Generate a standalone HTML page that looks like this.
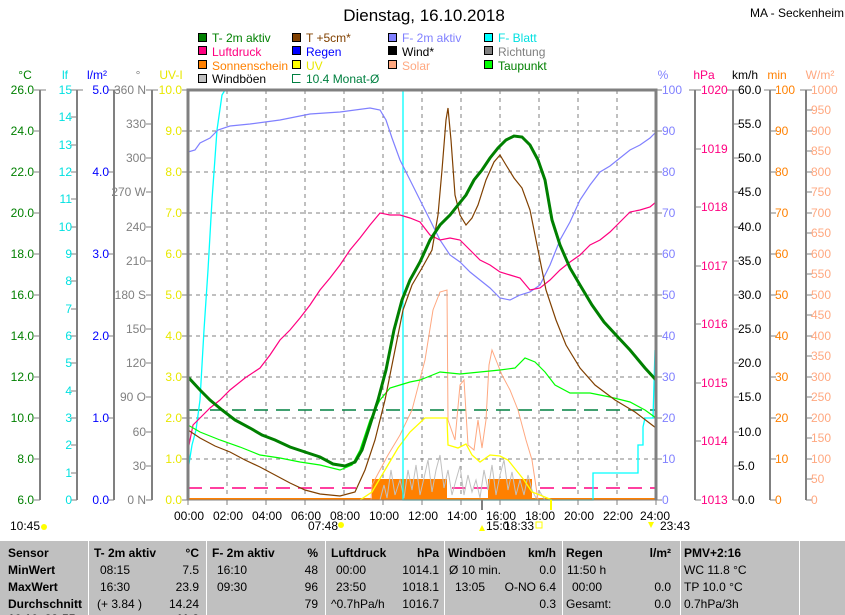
<!DOCTYPE html>
<html><head><meta charset="utf-8"><style>
body{margin:0;background:#fff;width:845px;height:615px;overflow:hidden;font-family:"Liberation Sans",sans-serif}
svg{position:absolute;left:0;top:0}
.t{font-family:"Liberation Sans",sans-serif;font-size:12px}
</style></head><body>
<svg width="845" height="615" viewBox="0 0 845 615" xmlns="http://www.w3.org/2000/svg">
<g class="t">
<text x="424" y="21" font-size="17" text-anchor="middle">Dienstag, 16.10.2018</text>
<text x="750" y="17" font-size="12">MA - Seckenheim</text>
<g stroke="#000" stroke-width="1">
<rect x="198.5" y="33.5" width="8" height="8" fill="#008000"/><rect x="198.5" y="46.5" width="8" height="8" fill="#ff0080"/><rect x="198.5" y="60.5" width="8" height="8" fill="#ff8000"/><rect x="198.5" y="74.5" width="8" height="8" fill="#c0c0c0"/>
<rect x="292.5" y="33.5" width="8" height="8" fill="#804000"/><rect x="292.5" y="46.5" width="8" height="8" fill="#0000ff"/><rect x="292.5" y="60.5" width="8" height="8" fill="#ffff00"/><path d="M300.5 74.5H292.5V82.5H300.5" fill="none" stroke="#008040"/>
<rect x="388.5" y="33.5" width="8" height="8" fill="#8080ff"/><rect x="388.5" y="46.5" width="8" height="8" fill="#000"/><rect x="388.5" y="60.5" width="8" height="8" fill="#ffa880"/>
<rect x="484.5" y="33.5" width="8" height="8" fill="#00ffff"/><rect x="484.5" y="46.5" width="8" height="8" fill="#808080"/><rect x="484.5" y="60.5" width="8" height="8" fill="#00ff00"/>
</g>
<text x="212" y="42" fill="#008000">T- 2m aktiv</text><text x="212" y="56" fill="#ff0080">Luftdruck</text><text x="212" y="70" fill="#ff8000">Sonnenschein</text><text x="212" y="83" fill="#000">Windböen</text>
<text x="306" y="42" fill="#804000">T +5cm*</text><text x="306" y="56" fill="#0000ff">Regen</text><text x="306" y="70" fill="#e8e800">UV</text><text x="306" y="83" fill="#008040">10.4 Monat-Ø</text>
<text x="402" y="42" fill="#8080ff">F- 2m aktiv</text><text x="402" y="56" fill="#000">Wind*</text><text x="402" y="70" fill="#ffa880">Solar</text>
<text x="498" y="42" fill="#00e0e0">F- Blatt</text><text x="498" y="56" fill="#808080">Richtung</text><text x="498" y="70" fill="#008000">Taupunkt</text>
<text x="25" y="79" fill="#008000" text-anchor="middle">°C</text><text x="65" y="79" fill="#00e0e0" text-anchor="middle">lf</text><text x="97" y="79" fill="#0000ff" text-anchor="middle">l/m²</text><text x="138" y="79" fill="#808080" text-anchor="middle">°</text><text x="171" y="79" fill="#e8e800" text-anchor="middle">UV-I</text>
<text x="663" y="79" fill="#8080ff" text-anchor="middle">%</text><text x="704" y="79" fill="#ff0080" text-anchor="middle">hPa</text><text x="745" y="79" fill="#000" text-anchor="middle">km/h</text><text x="777" y="79" fill="#ff8000" text-anchor="middle">min</text><text x="820" y="79" fill="#ffa880" text-anchor="middle">W/m²</text>
</g>
<g stroke="#808080" stroke-width="2">
<line x1="40" y1="90" x2="40" y2="500"/><line x1="77" y1="90" x2="77" y2="500"/><line x1="114" y1="90" x2="114" y2="500"/><line x1="152" y1="90" x2="152" y2="500"/>
<line x1="695" y1="90" x2="695" y2="500"/><line x1="733" y1="90" x2="733" y2="500"/><line x1="770" y1="90" x2="770" y2="500"/><line x1="806" y1="90" x2="806" y2="500"/>
</g>
<g stroke="#808080" stroke-width="1" fill="none">
<path d="M34 90h12M34 131h6M34 172h6M34 213h6M34 254h6M34 295h6M34 336h6M34 377h6M34 418h6M34 459h6M34 500h6"/>
<path d="M71 90h12M71 117h6M71 145h6M71 172h6M71 199h6M71 227h6M71 254h6M71 281h6M71 309h6M71 336h6M71 363h6M71 391h6M71 418h6M71 445h6M71 473h6M71 500h6"/>
<path d="M108 90h12M108 172h6M108 254h6M108 336h6M108 418h6M108 500h6"/>
<path d="M146 90h12M146 124h6M146 158h6M146 192h6M146 227h6M146 261h6M146 295h6M146 329h6M146 363h6M146 397h6M146 432h6M146 466h6M146 500h6"/>
<path d="M182 90h6M182 131h6M182 172h6M182 213h6M182 254h6M182 295h6M182 336h6M182 377h6M182 418h6M182 459h6M182 500h6"/>
<path d="M656 90h6M656 131h6M656 172h6M656 213h6M656 254h6M656 295h6M656 336h6M656 377h6M656 418h6M656 459h6M656 500h6"/>
<path d="M689 90h12M695 149h6M695 207h6M695 266h6M695 324h6M695 383h6M695 441h6M695 500h6"/>
<path d="M727 90h12M733 124h6M733 158h6M733 192h6M733 227h6M733 261h6M733 295h6M733 329h6M733 363h6M733 397h6M733 432h6M733 466h6M733 500h6"/>
<path d="M764 90h12M770 131h6M770 172h6M770 213h6M770 254h6M770 295h6M770 336h6M770 377h6M770 418h6M770 459h6M770 500h6"/>
<path d="M800 90h12M806 110h6M806 131h6M806 151h6M806 172h6M806 192h6M806 213h6M806 233h6M806 254h6M806 274h6M806 295h6M806 315h6M806 336h6M806 356h6M806 377h6M806 397h6M806 418h6M806 438h6M806 459h6M806 479h6M806 500h6"/>
</g>
<g class="t">
<g fill="#008000" text-anchor="end"><text x="34" y="94">26.0</text><text x="34" y="135">24.0</text><text x="34" y="176">22.0</text><text x="34" y="217">20.0</text><text x="34" y="258">18.0</text><text x="34" y="299">16.0</text><text x="34" y="340">14.0</text><text x="34" y="381">12.0</text><text x="34" y="422">10.0</text><text x="34" y="463">8.0</text><text x="34" y="504">6.0</text></g>
<g fill="#00e0e0" text-anchor="end"><text x="72" y="94">15</text><text x="72" y="121">14</text><text x="72" y="149">13</text><text x="72" y="176">12</text><text x="72" y="203">11</text><text x="72" y="231">10</text><text x="72" y="258">9</text><text x="72" y="285">8</text><text x="72" y="313">7</text><text x="72" y="340">6</text><text x="72" y="367">5</text><text x="72" y="395">4</text><text x="72" y="422">3</text><text x="72" y="449">2</text><text x="72" y="477">1</text><text x="72" y="504">0</text></g>
<g fill="#0000ff" text-anchor="end"><text x="109" y="94">5.0</text><text x="109" y="176">4.0</text><text x="109" y="258">3.0</text><text x="109" y="340">2.0</text><text x="109" y="422">1.0</text><text x="109" y="504">0.0</text></g>
<g fill="#808080" text-anchor="end"><text x="146" y="94">360 N</text><text x="146" y="128">330</text><text x="146" y="162">300</text><text x="146" y="196">270 W</text><text x="146" y="231">240</text><text x="146" y="265">210</text><text x="146" y="299">180 S</text><text x="146" y="333">150</text><text x="146" y="367">120</text><text x="146" y="401">90 O</text><text x="146" y="436">60</text><text x="146" y="470">30</text><text x="146" y="504">0 N</text></g>
<g fill="#e8e800" text-anchor="end"><text x="182" y="94">10.0</text><text x="182" y="135">9.0</text><text x="182" y="176">8.0</text><text x="182" y="217">7.0</text><text x="182" y="258">6.0</text><text x="182" y="299">5.0</text><text x="182" y="340">4.0</text><text x="182" y="381">3.0</text><text x="182" y="422">2.0</text><text x="182" y="463">1.0</text><text x="182" y="504">0.0</text></g>
<g fill="#8080ff"><text x="662" y="94">100</text><text x="662" y="135">90</text><text x="662" y="176">80</text><text x="662" y="217">70</text><text x="662" y="258">60</text><text x="662" y="299">50</text><text x="662" y="340">40</text><text x="662" y="381">30</text><text x="662" y="422">20</text><text x="662" y="463">10</text><text x="662" y="504">0</text></g>
<g fill="#ff0080"><text x="701" y="94">1020</text><text x="701" y="153">1019</text><text x="701" y="211">1018</text><text x="701" y="270">1017</text><text x="701" y="328">1016</text><text x="701" y="387">1015</text><text x="701" y="445">1014</text><text x="701" y="504">1013</text></g>
<g fill="#000"><text x="738" y="94">60.0</text><text x="738" y="128">55.0</text><text x="738" y="162">50.0</text><text x="738" y="196">45.0</text><text x="738" y="231">40.0</text><text x="738" y="265">35.0</text><text x="738" y="299">30.0</text><text x="738" y="333">25.0</text><text x="738" y="367">20.0</text><text x="738" y="401">15.0</text><text x="738" y="436">10.0</text><text x="738" y="470">5.0</text><text x="738" y="504">0.0</text></g>
<g fill="#ff8000"><text x="775" y="94">100</text><text x="775" y="135">90</text><text x="775" y="176">80</text><text x="775" y="217">70</text><text x="775" y="258">60</text><text x="775" y="299">50</text><text x="775" y="340">40</text><text x="775" y="381">30</text><text x="775" y="422">20</text><text x="775" y="463">10</text><text x="775" y="504">0</text></g>
<g fill="#ffa880"><text x="811" y="94">1000</text><text x="811" y="114">950</text><text x="811" y="135">900</text><text x="811" y="155">850</text><text x="811" y="176">800</text><text x="811" y="196">750</text><text x="811" y="217">700</text><text x="811" y="237">650</text><text x="811" y="258">600</text><text x="811" y="278">550</text><text x="811" y="299">500</text><text x="811" y="319">450</text><text x="811" y="340">400</text><text x="811" y="360">350</text><text x="811" y="381">300</text><text x="811" y="401">250</text><text x="811" y="422">200</text><text x="811" y="442">150</text><text x="811" y="463">100</text><text x="811" y="483">50</text><text x="811" y="504">0</text></g>
</g>
<g stroke="#808080" stroke-width="1" stroke-dasharray="4,4" fill="none">
<path d="M188 131H656M188 172H656M188 213H656M188 254H656M188 295H656M188 336H656M188 377H656M188 418H656M188 459H656"/>
<path d="M227 90V500M266 90V500M305 90V500M344 90V500M383 90V500M422 90V500M461 90V500M500 90V500M539 90V500M578 90V500M617 90V500"/>
</g>
<line x1="188" y1="410" x2="656" y2="410" stroke="#008040" stroke-width="1.5" stroke-dasharray="14,8"/>
<line x1="188" y1="488" x2="656" y2="488" stroke="#ff0080" stroke-width="1.5" stroke-dasharray="14,8"/>
<rect x="372" y="479" width="75" height="21" fill="#ff8000"/><rect x="488" y="479" width="44" height="21" fill="#ff8000"/>
<line x1="188" y1="499" x2="656" y2="499" stroke="#ff8000" stroke-width="2"/>
<polyline fill="none" stroke="#c0c0c0" stroke-width="1" points="380,500 384,485 387,498 391,470 395,495 400,480 404,498 408,470 412,490 416,465 420,495 424,478 428,460 432,492 436,470 440,455 444,488 448,470 452,495 456,480 460,466 464,495 468,475 472,492 476,480 480,498 484,470 488,490 492,465 496,495 500,475 504,460 508,490 512,472 516,495 520,480 524,495 528,475 532,490 536,498 540,492 545,500"/>
<polyline fill="none" stroke="#ffa880" stroke-width="1" points="360,500 371,500 372,485 380,470 388,455 400,435 412,410 425,360 433,310 440,292 447,290 448,420 455,440 460,385 464,380 468,445 474,450 478,420 482,448 486,420 489,365 492,350 496,360 502,375 510,390 518,410 526,440 532,460 538,500"/>
<polyline fill="none" stroke="#ffff00" stroke-width="1.3" points="360,500 372,492 385,470 398,448 410,432 425,418 447,418 448,445 458,448 466,444 472,455 480,462 490,455 500,456 508,460 516,470 524,480 532,492 540,495 552,500"/>
<polyline fill="none" stroke="#00ffff" stroke-width="1.3" points="188,470 192,445 196,430 200,400 204,330 208,270 212,200 217,130 222,95 225,90 403,90 403,500 593,500 593,473 638,473 638,445 643,445 643,427 645,418 653,418 655,350"/>
<polyline fill="none" stroke="#8080ff" stroke-width="1.2" points="188,152 195,150 200,143 210,138 218,130 230,126 250,124 280,120 310,114 340,112 370,108 380,110 386,120 392,138 400,160 410,180 420,200 430,220 440,240 450,255 460,262 470,272 480,280 490,288 500,298 510,300 520,295 530,292 540,285 550,265 560,240 570,222 580,200 590,185 600,172 610,166 620,158 630,150 640,145 650,138 656,132"/>
<polyline fill="none" stroke="#ff0080" stroke-width="1.2" points="188,450 193,425 200,418 210,408 220,400 230,390 245,378 260,368 270,355 280,340 290,330 300,318 310,305 320,290 330,278 340,265 350,250 360,238 370,225 380,213 390,215 400,215 410,218 420,222 430,235 440,240 450,238 460,240 470,250 480,260 490,265 500,272 510,275 520,278 530,290 540,288 550,280 560,270 570,262 580,255 590,245 600,240 610,232 620,222 630,212 640,210 650,207 656,202"/>
<polyline fill="none" stroke="#00ff00" stroke-width="1.2" points="188,425 200,432 220,440 240,447 260,455 280,458 300,462 320,465 340,470 352,465 360,450 370,420 380,400 390,388 400,385 410,382 420,380 430,376 440,372 460,374 480,372 500,370 515,368 525,358 535,362 545,372 555,385 570,393 590,393 610,397 630,402 645,410 656,418"/>
<polyline fill="none" stroke="#804000" stroke-width="1.2" points="188,430 200,438 215,446 230,452 245,460 260,467 275,475 290,483 305,490 320,494 340,496 355,492 365,470 375,440 385,400 395,350 403,310 412,285 422,268 432,250 438,215 442,170 446,120 448,108 451,140 455,195 460,215 466,225 472,218 478,205 486,180 494,162 500,155 506,165 514,178 522,188 530,210 538,250 546,290 556,320 566,345 580,368 595,385 615,400 635,412 656,428"/>
<polyline fill="none" stroke="#008000" stroke-width="3" points="188,377 200,390 210,400 222,410 235,420 250,428 262,435 275,440 290,447 305,452 320,457 333,464 345,466 355,462 362,450 370,425 378,400 386,370 394,330 402,300 410,280 420,262 430,240 440,225 450,215 458,205 466,195 474,180 482,170 490,158 498,148 506,140 514,136 522,137 530,145 538,160 545,180 552,220 560,245 570,268 580,285 592,305 604,322 616,335 630,350 645,368 656,380"/>
<path d="M188 500V90H656V500" fill="none" stroke="#808080" stroke-width="3"/>
<line x1="188" y1="500" x2="656" y2="500" stroke="#808080" stroke-width="1"/>
<g stroke="#808080" stroke-width="1"><path d="M188 500v5M227 500v5M266 500v5M305 500v5M344 500v5M383 500v5M422 500v5M461 500v5M500 500v5M539 500v5M578 500v5M617 500v5M656 500v5"/></g>
<line x1="482" y1="500" x2="482" y2="510" stroke="#808080" stroke-width="2"/>
<line x1="551" y1="500" x2="551" y2="510" stroke="#ffff00" stroke-width="2"/>
<g class="t" text-anchor="middle">
<text x="189" y="520">00:00</text><text x="228" y="520">02:00</text><text x="267" y="520">04:00</text><text x="306" y="520">06:00</text><text x="345" y="520">08:00</text><text x="384" y="520">10:00</text><text x="423" y="520">12:00</text><text x="462" y="520">14:00</text><text x="501" y="520">16:00</text><text x="540" y="520">18:00</text><text x="579" y="520">20:00</text><text x="618" y="520">22:00</text><text x="655" y="520">24:00</text>
</g>
<g class="t"><text x="10" y="530">10:45</text><text x="308" y="530">07:48</text><text x="486" y="530">15:0</text><text x="504" y="530">18:33</text><text x="660" y="530">23:43</text></g>
<circle cx="44" cy="527" r="3" fill="#ffff00"/><circle cx="341" cy="525" r="3" fill="#ffff00"/><path d="M479 531l3-6 3 6z" fill="#ffff00"/><rect x="536" y="522" width="6" height="6" fill="none" stroke="#ffff00"/><path d="M648 522l3 6 3-6z" fill="#ffff00"/>
<rect x="0" y="540" width="845" height="75" fill="#c0c0c0"/>
<line x1="0" y1="540.5" x2="845" y2="540.5" stroke="#fff"/>
<g stroke="#fff" stroke-width="1"><path d="M88.5 540V615M206.5 540V615M325.5 540V615M444.5 540V615M562.5 540V615M680.5 540V615M799.5 540V615"/></g>
<g font-family="Liberation Sans, sans-serif" font-size="12">
<g font-weight="bold"><text x="8" y="557">Sensor</text><text x="8" y="574">MinWert</text><text x="8" y="591">MaxWert</text><text x="8" y="608">Durchschnitt</text>
<text x="94" y="557">T- 2m aktiv</text><text x="199" y="557" text-anchor="end">°C</text><text x="212" y="557">F- 2m aktiv</text><text x="318" y="557" text-anchor="end">%</text><text x="331" y="557">Luftdruck</text><text x="439" y="557" text-anchor="end">hPa</text><text x="448" y="557">Windböen</text><text x="556" y="557" text-anchor="end">km/h</text><text x="566" y="557">Regen</text><text x="671" y="557" text-anchor="end">l/m²</text><text x="684" y="557">PMV+2:16</text></g>
<text x="100" y="574">08:15</text><text x="199" y="574" text-anchor="end">7.5</text><text x="217" y="574">16:10</text><text x="318" y="574" text-anchor="end">48</text><text x="336" y="574">00:00</text><text x="439" y="574" text-anchor="end">1014.1</text><text x="449" y="574">Ø 10 min.</text><text x="556" y="574" text-anchor="end">0.0</text><text x="567" y="574">11:50 h</text><text x="684" y="574">WC 11.8 °C</text>
<text x="100" y="591">16:30</text><text x="199" y="591" text-anchor="end">23.9</text><text x="217" y="591">09:30</text><text x="318" y="591" text-anchor="end">96</text><text x="336" y="591">23:50</text><text x="439" y="591" text-anchor="end">1018.1</text><text x="455" y="591">13:05</text><text x="556" y="591" text-anchor="end">O-NO 6.4</text><text x="572" y="591">00:00</text><text x="671" y="591" text-anchor="end">0.0</text><text x="684" y="591">TP 10.0 °C</text>
<text x="97" y="608">(+ 3.84 )</text><text x="199" y="608" text-anchor="end">14.24</text><text x="318" y="608" text-anchor="end">79</text><text x="331" y="608">^0.7hPa/h</text><text x="439" y="608" text-anchor="end">1016.7</text><text x="556" y="608" text-anchor="end">0.3</text><text x="566" y="608">Gesamt:</text><text x="671" y="608" text-anchor="end">0.0</text><text x="684" y="608">0.7hPa/3h</text>
<text x="8" y="623" font-weight="bold">16.10. 23:55</text><text x="199" y="623" text-anchor="end" font-weight="bold">11.8</text>
</g>
</svg>
</body></html>
